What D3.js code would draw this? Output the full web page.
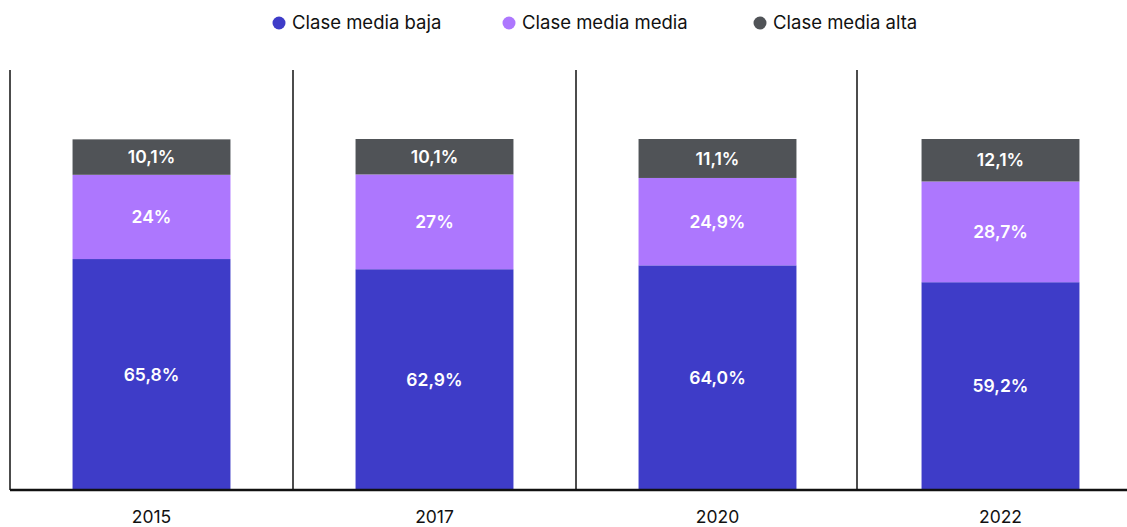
<!DOCTYPE html>
<html>
<head>
<meta charset="utf-8">
<script src="https://cdn.jsdelivr.net/npm/d3@7"></script>
<style>
  body { margin: 0; background: #fff; }
  svg { display: block; font-family: Inter, "Noto Sans", sans-serif; }
</style>
</head>
<body>
<svg id="chart" width="1127" height="527"></svg>
<script>
const years = ["2015", "2017", "2020", "2022"];
const series = ["Clase media baja", "Clase media media", "Clase media alta"];
const baja = [65.8, 62.9, 64.0, 59.2];
const mediaMedia = [24, 27, 24.9, 28.7];
const alta = [10.1, 10.1, 11.1, 12.1];
const labelsBaja = ["65,8%", "62,9%", "64,0%", "59,2%"];
const labelsMedia = ["24%", "27%", "24,9%", "28,7%"];
const labelsAlta = ["10,1%", "10,1%", "11,1%", "12,1%"];
const colors = ["#3e3cc8", "#ad77fe", "#505357"];

const svg = d3.select("#chart");

// chart area
const margin = { top: 70, left: 10, bottom: 490 };
const xScale = d3.scaleBand().domain(years).range([margin.left, 1142]).padding(0);
const yScale = d3.scaleLinear().domain([0, 100]).range([margin.bottom, 139]);
const barW = xScale.bandwidth() * 0.558;

// build stacked rows
const rows = years.map((y, i) => ({
  year: y,
  [series[0]]: baja[i],
  [series[1]]: mediaMedia[i],
  [series[2]]: alta[i]
}));
const labels = [labelsBaja, labelsMedia, labelsAlta];
const stacked = d3.stack().keys(series)(rows);

// separators between years
svg.append("g")
  .selectAll("line")
  .data(years)
  .join("line")
  .attr("x1", d => xScale(d) - (d === years[3] ? 2 : 0))
  .attr("x2", d => xScale(d) - (d === years[3] ? 2 : 0))
  .attr("y1", margin.top)
  .attr("y2", margin.bottom)
  .attr("stroke", "#111")
  .attr("stroke-width", 1.5);

// bars
const layers = svg.append("g")
  .selectAll("g")
  .data(stacked)
  .join("g")
  .attr("fill", (d, i) => colors[i]);

layers.selectAll("rect")
  .data(d => d)
  .join("rect")
  .attr("x", d => xScale(d.data.year) + (xScale.bandwidth() - barW) / 2)
  .attr("y", d => yScale(d[1]))
  .attr("width", barW)
  .attr("height", d => yScale(d[0]) - yScale(d[1]));

// value labels
stacked.forEach((layer, si) => {
  svg.append("g")
    .selectAll("text")
    .data(layer)
    .join("text")
    .attr("x", d => xScale(d.data.year) + xScale.bandwidth() / 2)
    .attr("y", d => (yScale(d[0]) + yScale(d[1])) / 2)
    .attr("dy", "0.35em")
    .attr("text-anchor", "middle")
    .attr("fill", "#fff")
    .attr("font-size", 17.5)
    .attr("font-weight", 600)
    .text((d, i) => labels[si][i]);
});

// x axis
const xAxis = d3.axisBottom(xScale).tickSize(0).tickPadding(21);
const gx = svg.append("g")
  .attr("transform", `translate(0,${margin.bottom})`)
  .call(xAxis);
gx.select(".domain").remove();
gx.selectAll("text")
  .attr("font-family", "Inter, 'Noto Sans', sans-serif")
  .attr("font-size", 17.5)
  .attr("fill", "#111");

svg.append("line")
  .attr("x1", margin.left)
  .attr("x2", 1127)
  .attr("y1", margin.bottom)
  .attr("y2", margin.bottom)
  .attr("stroke", "#111")
  .attr("stroke-width", 2.5);

// legend
const legendX = [279, 509, 760];
const legend = svg.append("g")
  .selectAll("g")
  .data(series)
  .join("g")
  .attr("transform", (d, i) => `translate(${legendX[i]},23)`);

legend.append("circle")
  .attr("r", 6.5)
  .attr("fill", (d, i) => colors[i]);

legend.append("text")
  .attr("x", 13)
  .attr("dy", "0.35em")
  .attr("font-size", 18.5)
  .attr("fill", "#111")
  .text(d => d);
</script>
</body>
</html>
